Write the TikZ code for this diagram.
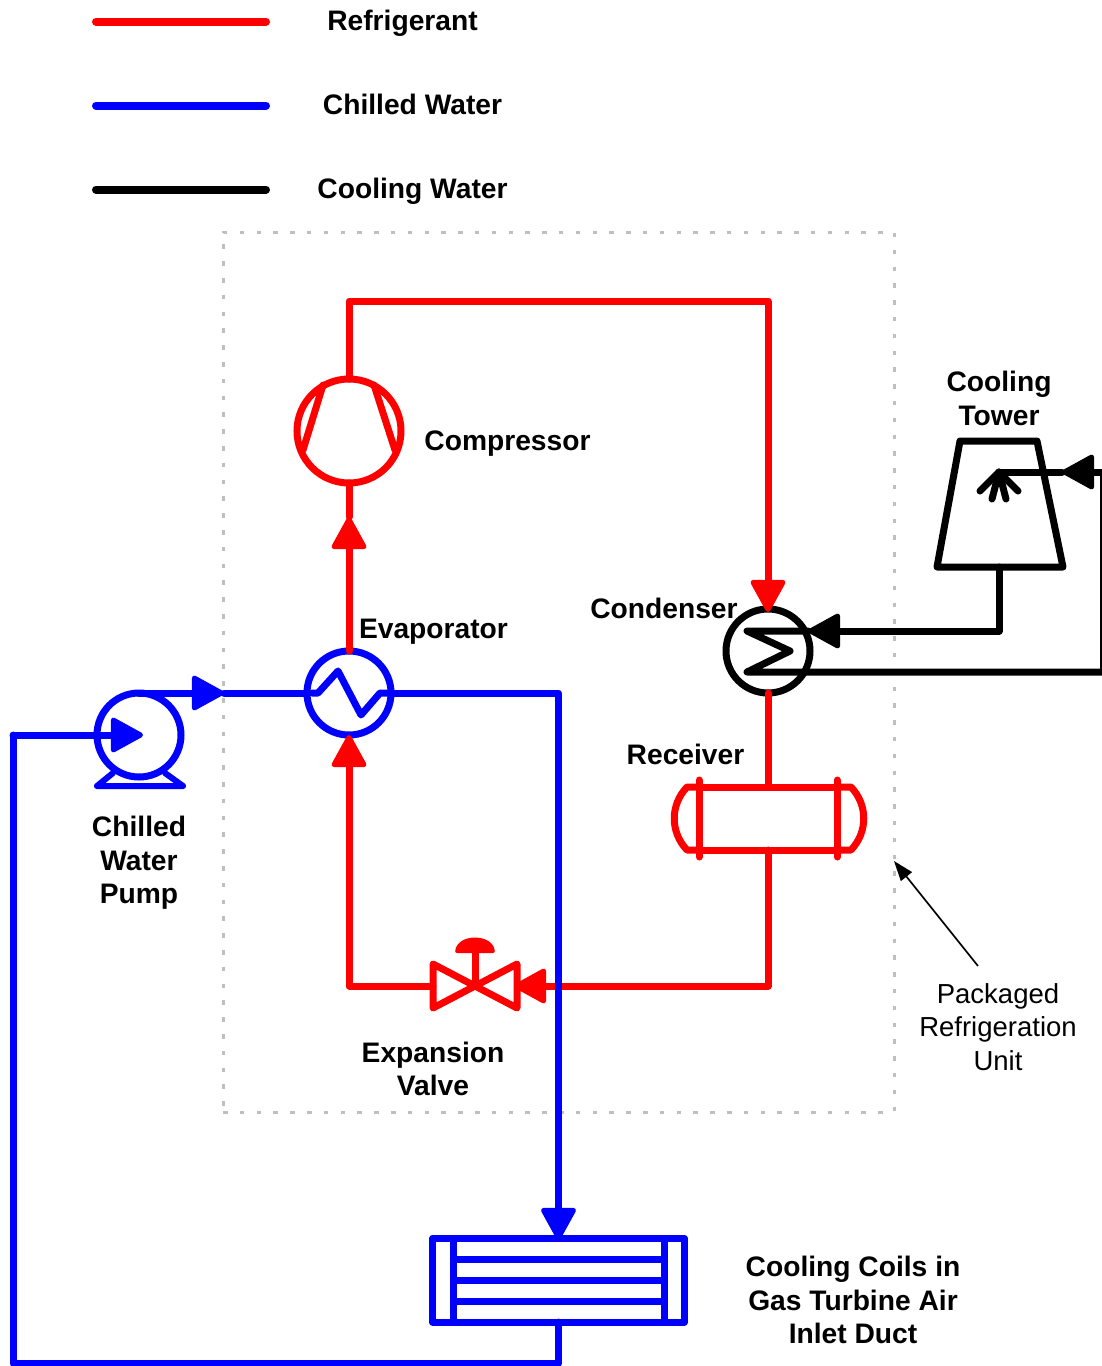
\documentclass[tikz,border=0pt]{standalone}
\usepackage{fontspec}
\setmainfont{Liberation Sans}
\usetikzlibrary{arrows.meta}
\tikzset{
  pipe/.style={line width=7pt,line cap=round,line join=round},
  refr/.style={pipe,draw=red},
  chw/.style={pipe,draw=blue},
  cw/.style={pipe,draw=black},
  tip/.style={-{Triangle[length=35pt,width=37pt,round,line width=5pt]}},
  ring/.style={circle,inner sep=0pt,outer sep=0pt,minimum size=#1,fill=none},
  box/.style={rectangle,inner sep=0pt,outer sep=0pt},
  lbl/.style={inner sep=0pt,outer sep=0pt,anchor=base,font=\fontsize{28.2}{33.5}\selectfont\bfseries,align=center},
  mlbl/.style={inner sep=0pt,outer sep=0pt,anchor=center,font=\fontsize{28.2}{33.5}\selectfont\bfseries,align=center},
  note/.style={inner sep=0pt,outer sep=0pt,anchor=center,font=\fontsize{27.5}{33.5}\selectfont,align=center},
  legline/.style={line width=8pt,line cap=round},
}
\begin{document}
\begin{tikzpicture}[x=1pt,y=-1pt]
\useasboundingbox (0,0) rectangle (1102,1366);
% packaged unit boundary
\node[box,draw=black!25,line width=3pt,dash pattern=on 4.5pt off 12.3pt,minimum width=671pt,minimum height=880pt] (unit) at (558.5,672) {};
% legend
\coordinate (la1) at (96,21.5); \coordinate (la2) at (266,21.5);
\coordinate (lb1) at (96,105.5); \coordinate (lb2) at (266,105.5);
\coordinate (lc1) at (96,189.5); \coordinate (lc2) at (266,189.5);
\draw[legline,red] (la1) -- (la2);
\draw[legline,blue] (lb1) -- (lb2);
\draw[legline,black] (lc1) -- (lc2);
\node[lbl] (t1) at (402.5,30) {Refrigerant};
\node[lbl] (t2) at (412.5,114) {Chilled Water};
\node[lbl] (t3) at (412.5,198) {Cooling Water};
% equipment outlines drawn below the refrigerant
\node[ring=84pt,draw=blue,line width=7pt] (evap) at (349,693) {};
\node[ring=84pt,draw=blue,line width=7pt] (pump) at (139,735) {};
\node[ring=84pt,draw=black,line width=7pt] (cond) at (768,651) {};
\node[ring=104pt,draw=red,line width=7pt] (comp) at (349,431) {};
\node[box,draw=blue,line width=7pt,line join=round,minimum width=252pt,minimum height=84pt] (coil) at (558.5,1280) {};
\node[box,draw=red,line width=7pt,minimum width=138pt,minimum height=63pt] (recv) at (768,818.5) {};
% compressor internals
\draw[refr] (323,385) -- (303,450);
\draw[refr] (374,385) -- (395,450);
% evaporator coil
\draw[chw] (312,693) -- (318,693) -- (338,671) -- (361,715) -- (380,693) -- (390,693);
% pump base
\draw[chw,line width=6pt] (113,773) -- (97,786) -- (183,786) -- (165,773);
% condenser coil
\coordinate (cin) at (808,631);
\coordinate (cout) at (1103,672);
\draw[cw] (cin) -- (747,631) -- (790,651) -- (747,672) -- (cout);
% tower
\coordinate (towerB) at (999,567);
\coordinate (towerS) at (999,472);
\draw[cw] (960,441) -- (1037,441) -- (1063,567) -- (937,567) -- cycle;
\draw[cw] (980,491) -- (towerS) -- (1018,491);
\draw[cw] (992,499) -- (towerS) -- (1006,499);
% cooling water connectors
\coordinate (cA) at (999,631);
\coordinate (cB) at (1103,472);
\coordinate (cC) at (1062,472);
\draw[cw,tip] (towerB) -- (cA) -- (cin);
\draw[cw] (cout) -- (cB);
\draw[cw,tip] (cB) -- (cC);
\draw[cw] (cC) -- (towerS);
% coil internals
\draw[chw,line cap=butt] (453,1238) -- (453,1322);
\draw[chw,line cap=butt] (664,1238) -- (664,1322);
\draw[chw,line cap=butt] (453,1259) -- (664,1259);
\draw[chw,line cap=butt] (453,1280) -- (664,1280);
\draw[chw,line cap=butt] (453,1301) -- (664,1301);
% receiver caps and ties
\draw[refr] (699,780) -- (699,857);
\draw[refr] (837,780) -- (837,857);
\draw[refr] (699,787) -- (687,787) .. controls (670,805) and (670,832) .. (687,850) -- (699,850);
\draw[refr] (837,787) -- (851,787) .. controls (868,805) and (868,832) .. (851,850) -- (837,850);
% valve
\coordinate (valveL) at (433,986);
\coordinate (valveR) at (517,986);
\coordinate (valveC) at (475,986);
\coordinate (valveH) at (475,950);
\draw[refr] (valveL) -- (433,964) -- (517,1008) -- (517,964) -- (433,1008) -- cycle;
\draw[refr] (valveC) -- (valveH);
\fill[red,rounded corners=2pt] (455,953) .. controls (457,933) and (493,933) .. (495,953) -- cycle;
% refrigerant connectors
\coordinate (r1) at (349,301);
\coordinate (r2) at (768,301);
\coordinate (r3) at (349,517);
\coordinate (r4) at (768,986);
\coordinate (r5) at (349,986);
\draw[refr,tip,shorten >=-3pt] (comp.north) -- (r1) -- (r2) -- (cond.north);
\draw[refr,tip] (evap.north) -- (r3);
\draw[refr] (r3) -- (comp.south);
\draw[refr] (cond.south) -- (recv.north);
\draw[refr,tip,shorten >=-3pt] (recv.south) -- (r4) -- (valveR);
\draw[refr,tip] (valveL) -- (r5) -- (evap.south);
% chilled water connectors
\coordinate (b1) at (13,735);
\coordinate (b2) at (143,735);
\coordinate (b3) at (224,693);
\coordinate (b4) at (558.5,693);
\coordinate (b5) at (13,1363);
\coordinate (b6) at (558.5,1363);
\draw[chw,tip] (b1) -- (b2);
\draw[chw,tip] (pump.north) -- (b3);
\draw[chw] (b3) -- (evap.west);
\draw[chw,tip,shorten >=-2pt] (evap.east) -- (b4) -- (coil.north);
\draw[chw] (coil.south) -- (b6) -- (b5) -- (b1);
% labels
\node[lbl] (tcomp) at (507.5,450) {Compressor};
\node[lbl] (tevap) at (433.5,638) {Evaporator};
\node[lbl] (tcond) at (664,618) {Condenser};
\node[lbl] (trecv) at (685.5,764) {Receiver};
\node[mlbl] (tpump) at (139,863) {Chilled\\Water\\Pump};
\node[mlbl] (tvalve) at (433,1069) {Expansion\\Valve};
\node[mlbl] (ttower) at (999,398.5) {Cooling\\Tower};
\node[mlbl] (tcoil) at (853,1300) {Cooling Coils in\\Gas Turbine Air\\Inlet Duct};
\node[note] (tunit) at (998,1027) {Packaged\\Refrigeration\\Unit};
\coordinate (nA) at (978,966);
\coordinate (nB) at (894,861);
\draw[line width=1.7pt,-{Triangle[length=20pt,width=14pt]}] (nA) -- (nB);
\end{tikzpicture}
\end{document}
